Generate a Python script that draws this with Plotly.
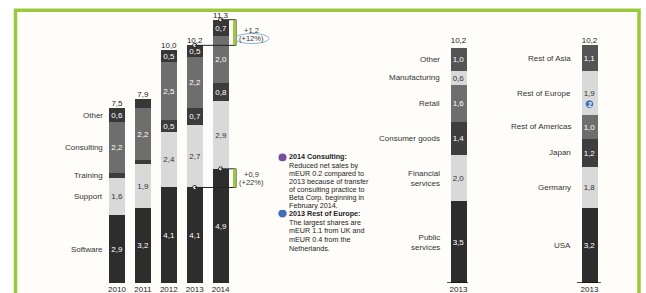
import plotly.graph_objects as go

W, H = 646, 293
FONT = "Liberation Sans, Arial, sans-serif"

# ---------------- data ----------------
years = ["2010", "2011", "2012", "2013", "2014"]
segments = ["Software", "Support", "Training", "Consulting", "Other"]
software = [2.9, 3.2, 4.1, 4.1, 4.9]
support = [1.6, 1.9, 2.4, 2.7, 2.9]
training = [0.2, 0.2, 0.5, 0.7, 0.8]
consulting = [2.2, 2.2, 2.5, 2.2, 2.0]
other = [0.6, 0.4, 0.5, 0.5, 0.7]
totals_left = [7.5, 7.9, 10.0, 10.2, 11.3]

industry_labels = ["Public<br>services", "Financial<br>services", "Consumer goods",
                   "Retail", "Manufacturing", "Other"]
industry_values = [3.5, 2.0, 1.4, 1.6, 0.6, 1.0]
industry_total = [10.2]

region_labels = ["USA", "Germany", "Japan", "Rest of Americas", "Rest of Europe", "Rest of Asia"]
region_values = [3.2, 1.8, 1.2, 1.0, 1.9, 1.1]
region_total = [10.2]

growth_total = ["+1,2", "(+12%)"]
growth_software = ["+0,9", "(+22%)"]

note1 = ["2014 Consulting:", "Reduced net sales by", "mEUR 0.2 compared to",
         "2013 because of transfer", "of consulting practice to",
         "Beta Corp. beginning in", "February 2014."]
note2 = ["2013 Rest of Europe:", "The largest shares are", "mEUR 1.1 from UK and",
         "mEUR 0.4 from the", "Netherlands."]

# ---------------- styling ----------------
LIGHT = "#d9d9d9"
left_colors = ["#2d2d2d", "#d9d9d9", "#3c3c3c", "#6e6e6e", "#373737"]
mid_colors = ["#2d2d2d", "#d9d9d9", "#3e3e3e", "#6e6e6e", "#d9d9d9", "#545454"]
right_colors = ["#2d2d2d", "#d9d9d9", "#3e3e3e", "#6e6e6e", "#d9d9d9", "#545454"]
GREEN = "#9bc93c"

PXU = 23.3          # pixels per unit
BASE_PX = 283       # baseline pixel row
YTOP = BASE_PX / PXU

STEP = 25.9         # px per category on left chart
C0 = 117            # px centre of first left bar
LEFT_RANGE = [-0.5, 6.0]
BW_L = 16 / STEP

MID_C, MID_W = 458.5, 30
RIGHT_C, RIGHT_W = 589.5, 30
BW_M = 16.5 / MID_W
BW_R = 15.5 / RIGHT_W


def fmt(v):
    return f"{v:.1f}".replace(".", ",")


def seg_text(vals):
    return [fmt(v) if v >= 0.45 else "" for v in vals]


def txtcol(c):
    return "#333333" if c == LIGHT else "white"


fig = go.Figure()

# ---------------- left chart ----------------
left_series = [software, support, training, consulting, other]
xi = list(range(len(years)))
for name, vals, col in zip(segments, left_series, left_colors):
    fig.add_trace(go.Bar(
        x=xi, y=vals, name=name, marker=dict(color=col, line=dict(width=0)),
        width=BW_L, text=seg_text(vals), textposition="inside",
        insidetextanchor="middle", textangle=0,
        textfont=dict(size=8, color=txtcol(col), family=FONT),
        xaxis="x", yaxis="y", showlegend=False, hoverinfo="skip"))

fig.add_trace(go.Scatter(
    x=xi, y=totals_left, mode="text", text=[fmt(v) for v in totals_left],
    textposition="top center", textfont=dict(size=8, color="#222222", family=FONT),
    xaxis="x", yaxis="y", showlegend=False, hoverinfo="skip", cliponaxis=False))

# ---------------- middle chart ----------------
for name, v, col in zip(industry_labels, industry_values, mid_colors):
    fig.add_trace(go.Bar(
        x=["2013"], y=[v], name=name, marker=dict(color=col, line=dict(width=0)),
        width=BW_M, text=seg_text([v]), textposition="inside",
        insidetextanchor="middle", textangle=0,
        textfont=dict(size=8, color=txtcol(col), family=FONT),
        xaxis="x2", yaxis="y", showlegend=False, hoverinfo="skip"))
fig.add_trace(go.Scatter(
    x=["2013"], y=industry_total, mode="text", text=[fmt(v) for v in industry_total],
    textposition="top center", textfont=dict(size=8, color="#222222", family=FONT),
    xaxis="x2", yaxis="y", showlegend=False, hoverinfo="skip", cliponaxis=False))

# ---------------- right chart ----------------
for name, v, col in zip(region_labels, region_values, right_colors):
    fig.add_trace(go.Bar(
        x=["2013"], y=[v], name=name, marker=dict(color=col, line=dict(width=0)),
        width=BW_R, text=seg_text([v]), textposition="inside",
        insidetextanchor="middle", textangle=0,
        textfont=dict(size=8, color=txtcol(col), family=FONT),
        xaxis="x3", yaxis="y", showlegend=False, hoverinfo="skip"))
fig.add_trace(go.Scatter(
    x=["2013"], y=region_total, mode="text", text=[fmt(v) for v in region_total],
    textposition="top center", textfont=dict(size=8, color="#222222", family=FONT),
    xaxis="x3", yaxis="y", showlegend=False, hoverinfo="skip", cliponaxis=False))

# comparison markers (2013 -> 2014)
fig.add_trace(go.Scatter(
    x=[3, 4, 3, 4], y=[totals_left[3], totals_left[4], software[3], software[4]],
    mode="markers", marker=dict(size=4, color="white", line=dict(color="#222", width=1)),
    xaxis="x", yaxis="y", showlegend=False, hoverinfo="skip", cliponaxis=False))

annotations = []
shapes = []


def cum_mid(vals):
    out, s = [], 0
    for v in vals:
        out.append(s + v / 2)
        s += v
    return out


for name, m in zip(segments, cum_mid([s[0] for s in left_series])):
    annotations.append(dict(x=-BW_L / 2, y=m, xref="x", yref="y", text=name,
                            xanchor="right", xshift=-4, showarrow=False, align="right",
                            font=dict(size=8, color="#333333", family=FONT)))
for name, m in zip(industry_labels, cum_mid(industry_values)):
    annotations.append(dict(x=-BW_M / 2, y=m, xref="x2", yref="y", text=name,
                            xanchor="right", xshift=-8, showarrow=False, align="right",
                            font=dict(size=8, color="#333333", family=FONT)))
for name, m in zip(region_labels, cum_mid(region_values)):
    annotations.append(dict(x=-BW_R / 2, y=m, xref="x3", yref="y", text=name,
                            xanchor="right", xshift=-9, showarrow=False, align="right",
                            font=dict(size=8, color="#333333", family=FONT)))

# growth brackets
XB = (236 - C0) / STEP
XG = (234.5 - C0) / STEP
XT = (251 - C0) / STEP
for (a, b), labels, dy in [((totals_left[3], totals_left[4]), growth_total, -2),
                           ((software[3], software[4]), growth_software, 0)]:
    shapes.append(dict(type="line", xref="x", yref="y", x0=3, x1=XB, y0=a, y1=a,
                       line=dict(color="#222222", width=1)))
    shapes.append(dict(type="line", xref="x", yref="y", x0=4, x1=XB, y0=b, y1=b,
                       line=dict(color="#222222", width=1)))
    shapes.append(dict(type="line", xref="x", yref="y", x0=XB, x1=XB, y0=a, y1=b,
                       line=dict(color="#222222", width=1)))
    shapes.append(dict(type="line", xref="x", yref="y", x0=XG, x1=XG, y0=a, y1=b,
                       line=dict(color=GREEN, width=3)))
    mid = (a + b) / 2
    annotations.append(dict(x=XT, y=mid, xref="x", yref="y", text=labels[0],
                            yshift=4 + dy, showarrow=False,
                            font=dict(size=7.5, color="#333333", family=FONT)))
    annotations.append(dict(x=XT, y=mid, xref="x", yref="y", text=labels[1],
                            yshift=-4 + dy, showarrow=False,
                            font=dict(size=7.5, color="#333333", family=FONT)))

# blue ellipse around +12%
mid_t = (totals_left[3] + totals_left[4]) / 2
shapes.append(dict(type="circle", xref="x", yref="y",
                   x0=(235 - C0) / STEP, x1=(269 - C0) / STEP,
                   y0=mid_t - 11 / PXU, y1=mid_t - 1 / PXU,
                   line=dict(color="#7fb6d6", width=1)))

# baselines
shapes.append(dict(type="line", xref="x", yref="y", x0=-0.52, x1=4.5,
                   y0=-1.6 / PXU, y1=-1.6 / PXU, line=dict(color="#a8a8a8", width=3)))
shapes.append(dict(type="line", xref="x", yref="y", x0=2.55, x1=3.45,
                   y0=-1.6 / PXU, y1=-1.6 / PXU, line=dict(color="#111111", width=3)))
shapes.append(dict(type="line", xref="x2", yref="y", x0=-0.38, x1=0.32,
                   y0=-0.8 / PXU, y1=-0.8 / PXU, line=dict(color="#111111", width=3)))
shapes.append(dict(type="line", xref="x3", yref="y", x0=-0.42, x1=0.38,
                   y0=-0.8 / PXU, y1=-0.8 / PXU, line=dict(color="#111111", width=3)))

# frame
shapes.append(dict(type="rect", xref="paper", yref="paper",
                   x0=15.5 / W, x1=639 / W, y0=-0.3, y1=1 - 10.5 / H,
                   fillcolor="#fffdfa", line=dict(color=GREEN, width=3.5), layer="below"))


def pp(x, y):
    return x / W, 1 - y / H


for i, line in enumerate(note1):
    x, y = pp(287, 162.5 + i * 8.45)
    annotations.append(dict(x=x, y=y, xref="paper", yref="paper", xanchor="left",
                            yanchor="middle", showarrow=False,
                            text=f"<b>{line}</b>" if i == 0 else line,
                            font=dict(size=7.2, color="#222222", family=FONT)))
for i, line in enumerate(note2):
    x, y = pp(287, 221 + i * 9.0)
    annotations.append(dict(x=x, y=y, xref="paper", yref="paper", xanchor="left",
                            yanchor="middle", showarrow=False,
                            text=f"<b>{line}</b>" if i == 0 else line,
                            font=dict(size=7.2, color="#222222", family=FONT)))

cx, cy = pp(282.5, 163)
shapes.append(dict(type="circle", xref="paper", yref="paper",
                   x0=cx - 4 / W, x1=cx + 4 / W, y0=cy - 4 / H, y1=cy + 4 / H,
                   fillcolor="#7a4d9c", line=dict(width=0)))
cx, cy = pp(282.5, 221)
shapes.append(dict(type="circle", xref="paper", yref="paper",
                   x0=cx - 4.2 / W, x1=cx + 4.2 / W, y0=cy - 4.2 / H, y1=cy + 4.2 / H,
                   fillcolor="#3f6fb6", line=dict(width=0)))
annotations.append(dict(x=cx, y=cy, xref="paper", yref="paper", text="<b>2</b>",
                        showarrow=False, font=dict(size=7, color="white", family=FONT)))

# marker "2" on Rest of Europe
re_mid = cum_mid(region_values)[4]
cy_u = re_mid - 11 / PXU
shapes.append(dict(type="circle", xref="x3", yref="y",
                   x0=-4.2 / RIGHT_W, x1=4.2 / RIGHT_W,
                   y0=cy_u - 4.2 / PXU, y1=cy_u + 4.2 / PXU,
                   fillcolor="#3f6fb6", line=dict(color="white", width=0.5)))
annotations.append(dict(x=0, y=cy_u, xref="x3", yref="y", text="<b>2</b>",
                        showarrow=False, font=dict(size=7, color="white", family=FONT)))

left_dom = [(C0 + LEFT_RANGE[0] * STEP) / W, (C0 + LEFT_RANGE[1] * STEP) / W]
axis_common = dict(showgrid=False, zeroline=False, showline=False, ticks="",
                   tickfont=dict(size=8, color="#222222", family=FONT), automargin=False)

fig.update_layout(
    width=W, height=H, margin=dict(l=0, r=0, t=0, b=10),
    paper_bgcolor="white", plot_bgcolor="rgba(0,0,0,0)",
    barmode="stack", bargap=0, separators=",.",
    uniformtext=dict(minsize=8, mode="show"),
    font=dict(family=FONT),
    xaxis=dict(domain=left_dom, range=LEFT_RANGE, tickmode="array", tickvals=xi,
               ticktext=years, anchor="y", **axis_common),
    xaxis2=dict(domain=[(MID_C - MID_W / 2) / W, (MID_C + MID_W / 2) / W],
                type="category", range=[-0.5, 0.5], anchor="y", **axis_common),
    xaxis3=dict(domain=[(RIGHT_C - RIGHT_W / 2) / W, (RIGHT_C + RIGHT_W / 2) / W],
                type="category", range=[-0.5, 0.5], anchor="y", **axis_common),
    yaxis=dict(range=[0, YTOP], visible=False, domain=[0, 1], fixedrange=True),
    shapes=shapes, annotations=annotations,
)

fig.write_html("out.html", config={"displayModeBar": False},
               post_script="document.body.style.margin='0';document.body.style.overflow='hidden';")
